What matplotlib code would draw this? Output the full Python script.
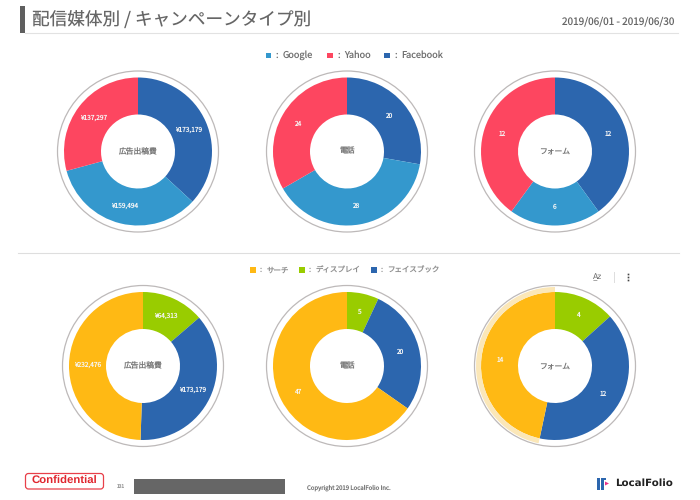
import matplotlib
matplotlib.use('Agg')
import matplotlib.pyplot as plt
from matplotlib.patches import Circle, Rectangle, FancyBboxPatch, Wedge, Polygon

plt.rcParams['font.family'] = ['Noto Sans CJK JP', 'DejaVu Sans']
plt.rcParams['text.hinting'] = 'none'

BLUE = '#2c66ae'
SKY = '#3498cd'
RED = '#fd4660'
YELLOW = '#ffb914'
GREEN = '#99cc00'

# top row, clockwise from 12 o'clock: Facebook, Google, Yahoo
top_colors = [BLUE, SKY, RED]
top_cost = [173179, 159494, 137297]
top_cost_labels = ['¥173,179', '¥159,494', '¥137,297']
top_phone = [20, 28, 24]
top_form = [12, 6, 12]

# bottom row, clockwise from 12 o'clock: display, facebook, search
bottom_colors = [GREEN, BLUE, YELLOW]
bottom_cost = [64313, 173179, 232476]
bottom_cost_labels = ['¥64,313', '¥173,179', '¥232,476']
bottom_phone = [5, 20, 47]
bottom_form = [4, 12, 14]

center_names = ['広告出稿費', '電話', 'フォーム']

W, H = 700, 500
fig = plt.figure(figsize=(7, 5), dpi=100)

# overlay in pixel coords for page furniture
page = fig.add_axes([0, 0, 1, 1], zorder=0)
page.set_xlim(0, W)
page.set_ylim(H, 0)
page.axis('off')


def donut(cx, cy, values, colors, labels, name, halo=False):
    size = 170
    ax = fig.add_axes([(cx - size / 2) / W, 1 - (cy + size / 2) / H, size / W, size / H], zorder=2)
    ax.patch.set_alpha(0)
    ax.add_patch(Circle((0, 0), 80.5, fill=False, ec='#bdb9b9', lw=0.9))
    wedges, texts = ax.pie(values, colors=colors, startangle=90, counterclock=False, radius=74,
                           labels=labels, labeldistance=0.75,
                           wedgeprops={'width': 37, 'linewidth': 0},
                           textprops={'color': '#f6f6f6', 'fontsize': 4.7})
    for t in texts:
        t.set_ha('center')
        t.set_va('center')
    if halo:
        w = wedges[-1]
        ax.add_patch(Wedge((0, 0), 79, w.theta1, w.theta2, width=5, fc='#fbe7b8', ec='none'))
    ax.text(0, 0, name, ha='center', va='center', fontsize=5.6, color='#777777')
    ax.set_xlim(-85, 85)
    ax.set_ylim(-85, 85)
    ax.set_aspect('equal')
    ax.axis('off')


donut(138, 151.5, top_cost, top_colors, top_cost_labels, center_names[0])
donut(347, 151.5, top_phone, top_colors, top_phone, center_names[1])
donut(555, 151.5, top_form, top_colors, top_form, center_names[2])
donut(143, 366, bottom_cost, bottom_colors, bottom_cost_labels, center_names[0])
donut(347, 366, bottom_phone, bottom_colors, bottom_phone, center_names[1])
donut(555, 366, bottom_form, bottom_colors, bottom_form, center_names[2], halo=True)

# header
page.add_patch(Rectangle((20, 6), 5, 27, fc='#5f5f5f', ec='none'))
page.plot([25, 678], [32.5, 32.5], color='#e2e2e2', lw=0.8)
page.text(32, 20.5, '配信媒体別 / キャンペーンタイプ別', fontsize=12.7, color='#666666', va='center')
page.text(674, 21, '2019/06/01 - 2019/06/30', fontsize=7.2, color='#666666', va='center', ha='right')

# divider between rows
page.plot([18, 679], [253, 253], color='#dedede', lw=0.8)

# top legend
for x, c, s in [(268.5, SKY, 'Google'), (330, RED, 'Yahoo'), (387, BLUE, 'Facebook')]:
    page.add_patch(Rectangle((x - 2.8, 52.8), 5.6, 5.6, fc=c, ec='none'))
    page.text(x + 8.5, 55.5, ':', fontsize=6.6, color='#707070', va='center', ha='center')
    page.text(x + 14.5, 55.5, s, fontsize=6.6, color='#707070', va='center')

# bottom legend
for x, c, s in [(253, YELLOW, 'サーチ'), (302, GREEN, 'ディスプレイ'), (374, BLUE, 'フェイスブック')]:
    page.add_patch(Rectangle((x - 2.8, 267.2), 5.6, 5.6, fc=c, ec='none'))
    page.text(x + 8, 270, ':', fontsize=5.4, color='#909090', va='center', ha='center')
    page.text(x + 13.5, 270, s, fontsize=5.4, color='#909090', va='center')

# toolbar icons
page.text(598, 277, 'A̲z', fontsize=5.5, color='#666666', ha='center', va='center', family='DejaVu Sans')
page.plot([614, 614], [272, 282], color='#dddddd', lw=0.7)
page.plot([627.5, 627.5, 627.5], [274, 277, 280], 's', ms=1.2, mew=0, color='#444444')

# footer
page.add_patch(FancyBboxPatch((25.5, 473.5), 78, 15.5, boxstyle='round,pad=0,rounding_size=3', fc='white', ec='#e8404a', lw=0.9))
page.text(64.5, 481.5, 'Confidential', fontsize=8.2, fontweight='bold', color='#e0262e', ha='center', va='center', family='Liberation Sans')
page.text(121, 486, '131', fontsize=3.5, color='#999999', ha='center', va='center')
page.add_patch(Rectangle((134, 479), 151, 15, fc='#666666', ec='none'))
page.text(349, 488, 'Copyright 2019 LocalFolio Inc.', fontsize=4.3, color='#777777', ha='center', va='center')
page.add_patch(Rectangle((597, 477.5), 2.5, 12, fc=BLUE, ec='none'))
page.add_patch(Rectangle((601, 477.5), 5, 2.5, fc=BLUE, ec='none'))
page.add_patch(Rectangle((601, 477.5), 2.5, 12, fc=BLUE, ec='none'))
page.add_patch(Polygon([(605, 481.5), (609, 483.5), (605, 485.5)], fc='#e8308a', ec='none'))
page.text(615, 483, 'LocalFolio', fontsize=7.4, fontweight='bold', color='#222222', va='center', family='DejaVu Sans')

fig.savefig('out.png', dpi=100)
